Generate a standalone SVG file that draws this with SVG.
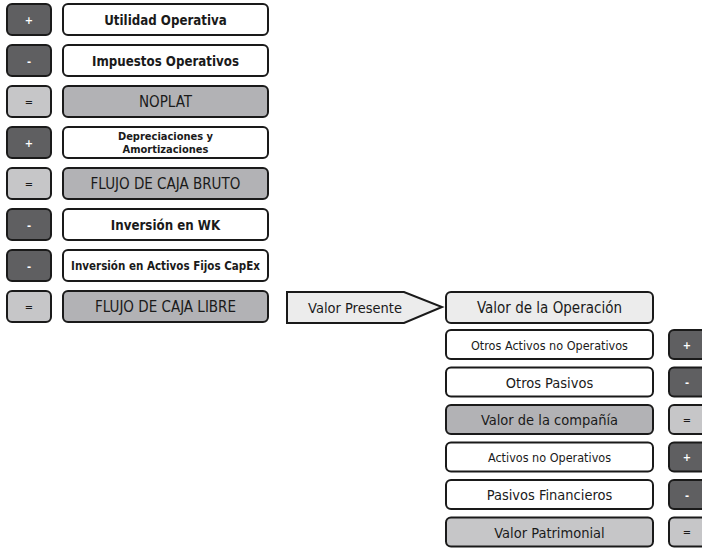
<svg xmlns="http://www.w3.org/2000/svg" width="702" height="549" viewBox="0 0 702 549">
<style>
  .box { stroke: #1a1a1a; stroke-width: 2; }
  .dark { fill: #5f5f61; }
  .mid { fill: #b2b2b5; }
  .light { fill: #c6c6c8; }
  .pale { fill: #ececec; }
  .white { fill: #ffffff; }
  text { font-family: "DejaVu Sans Condensed", "DejaVu Sans", "Liberation Sans", sans-serif; text-anchor: middle; dominant-baseline: central; fill: #1a1a1a; }
  .sign { fill: #ffffff; font-size: 11px; font-weight: bold; }
  .signd { fill: #1a1a1a; font-size: 11px; }
  .b13 { font-size: 13.2px; font-weight: bold; }
  .b11 { font-size: 11px; font-weight: bold; }
  .b115 { font-size: 11.5px; font-weight: bold; }
  .r15 { font-size: 15px; }
  .r145 { font-size: 14.5px; }
  .r12 { font-size: 12.5px; }
</style>
<rect width="702" height="549" fill="#ffffff"/>
<g id="connectors">
  <g id="valor-presente">
    <path class="box pale" d="M287,292 L404,292 L442,307 L404,323 L287,323 Z"/>
    <text class="r145" x="355" y="307.5">Valor Presente</text>
  </g>
</g>
<!-- Left column -->
<g id="row1">
  <rect class="box dark" x="7" y="4" width="44" height="31" rx="5"/>
  <text class="sign" x="29" y="20">+</text>
  <rect class="box white" x="63" y="4" width="205" height="31" rx="5"/>
  <text class="b13" x="165.5" y="20">Utilidad Operativa</text>
</g>
<g id="row2">
  <rect class="box dark" x="7" y="45" width="44" height="31" rx="5"/>
  <text class="sign" x="29" y="61">-</text>
  <rect class="box white" x="63" y="45" width="205" height="31" rx="5"/>
  <text class="b13" x="165.5" y="61">Impuestos Operativos</text>
</g>
<g id="row3">
  <rect class="box light" x="7" y="86" width="44" height="31" rx="5"/>
  <text class="signd" x="29" y="102">=</text>
  <rect class="box mid" x="63" y="86" width="205" height="31" rx="5"/>
  <text class="r15" x="165.5" y="102">NOPLAT</text>
</g>
<g id="row4">
  <rect class="box dark" x="7" y="127" width="44" height="31" rx="5"/>
  <text class="sign" x="29" y="143">+</text>
  <rect class="box white" x="63" y="127" width="205" height="31" rx="5"/>
  <text class="b11" x="165.5" y="136">Depreciaciones y</text>
  <text class="b11" x="165.5" y="149.5">Amortizaciones</text>
</g>
<g id="row5">
  <rect class="box light" x="7" y="168" width="44" height="31" rx="5"/>
  <text class="signd" x="29" y="184">=</text>
  <rect class="box mid" x="63" y="168" width="205" height="31" rx="5"/>
  <text class="r15" x="165.5" y="184">FLUJO DE CAJA BRUTO</text>
</g>
<g id="row6">
  <rect class="box dark" x="7" y="209" width="44" height="31" rx="5"/>
  <text class="sign" x="29" y="225">-</text>
  <rect class="box white" x="63" y="209" width="205" height="31" rx="5"/>
  <text class="b13" x="165.5" y="225">Inversión en WK</text>
</g>
<g id="row7">
  <rect class="box dark" x="7" y="250" width="44" height="31" rx="5"/>
  <text class="sign" x="29" y="266">-</text>
  <rect class="box white" x="63" y="250" width="205" height="31" rx="5"/>
  <text class="b115" x="165.5" y="266">Inversión en Activos Fijos CapEx</text>
</g>
<g id="row8">
  <rect class="box light" x="7" y="291" width="44" height="31" rx="5"/>
  <text class="signd" x="29" y="307">=</text>
  <rect class="box mid" x="63" y="291" width="205" height="31" rx="5"/>
  <text class="r15" x="165.5" y="307">FLUJO DE CAJA LIBRE</text>
</g>
<!-- Right column -->
<g id="valor-operacion">
  <rect class="box pale" x="446" y="292" width="207" height="31" rx="5"/>
  <text class="r15" x="549.5" y="308">Valor de la Operación</text>
</g>
<g id="otros-activos">
  <rect class="box white" x="446" y="330" width="207" height="29" rx="5"/>
  <text class="r12" x="549.5" y="345">Otros Activos no Operativos</text>
  <rect class="box dark" x="669" y="330" width="44" height="29" rx="5"/>
  <text class="sign" x="687" y="345">+</text>
</g>
<g id="otros-pasivos">
  <rect class="box white" x="446" y="367.5" width="207" height="29" rx="5"/>
  <text class="r145" x="549.5" y="382.5">Otros Pasivos</text>
  <rect class="box dark" x="669" y="367.5" width="44" height="29" rx="5"/>
  <text class="sign" x="687" y="382.5">-</text>
</g>
<g id="valor-compania">
  <rect class="box mid" x="446" y="405" width="207" height="29" rx="5"/>
  <text class="r145" x="549.5" y="420">Valor de la compañía</text>
  <rect class="box light" x="669" y="405" width="44" height="29" rx="5"/>
  <text class="signd" x="687" y="420">=</text>
</g>
<g id="activos-no-operativos">
  <rect class="box white" x="446" y="442.5" width="207" height="29" rx="5"/>
  <text class="r12" x="549.5" y="457.5">Activos no Operativos</text>
  <rect class="box dark" x="669" y="442.5" width="44" height="29" rx="5"/>
  <text class="sign" x="687" y="457.5">+</text>
</g>
<g id="pasivos-financieros">
  <rect class="box white" x="446" y="480" width="207" height="29" rx="5"/>
  <text class="r145" x="549.5" y="495">Pasivos Financieros</text>
  <rect class="box dark" x="669" y="480" width="44" height="29" rx="5"/>
  <text class="sign" x="687" y="495">-</text>
</g>
<g id="valor-patrimonial">
  <rect class="box light" x="446" y="517.5" width="207" height="29" rx="5"/>
  <text class="r145" x="549.5" y="532.5">Valor Patrimonial</text>
  <rect class="box light" x="669" y="517.5" width="44" height="29" rx="5"/>
  <text class="signd" x="687" y="532.5">=</text>
</g>
</svg>
